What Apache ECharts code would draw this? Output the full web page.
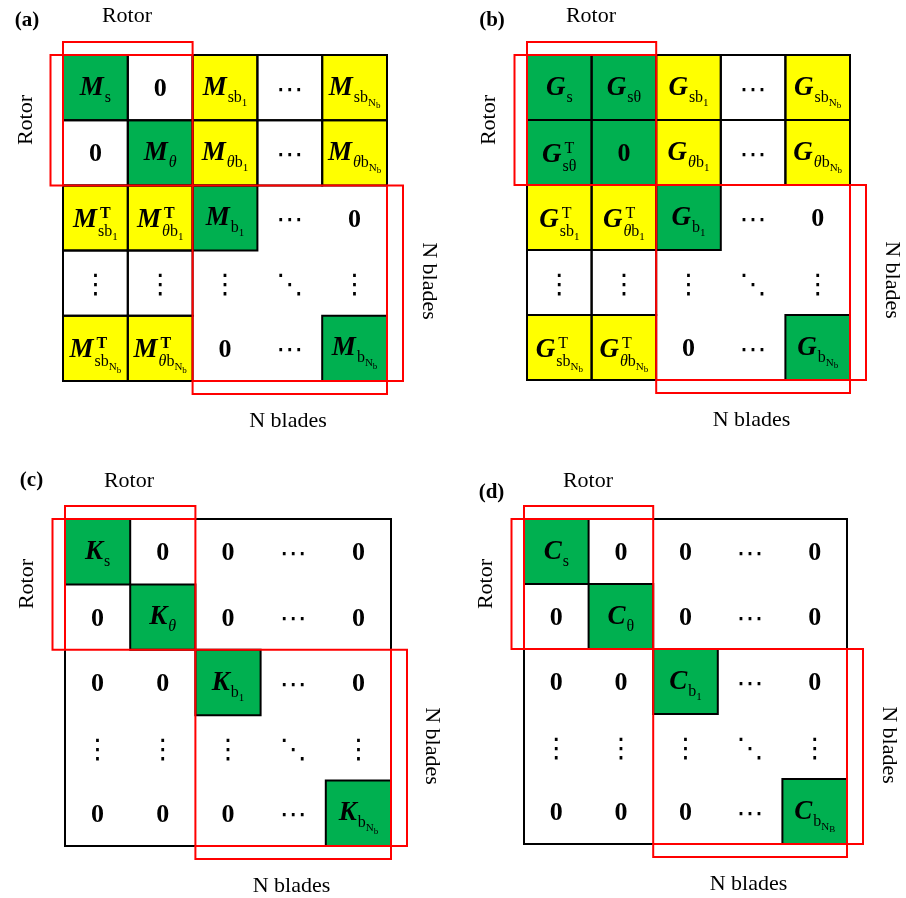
<!DOCTYPE html>
<html>
<head>
<meta charset="utf-8">
<script src="https://cdn.jsdelivr.net/npm/echarts@6/dist/echarts.min.js"></script>
<style>
  html, body { margin: 0; padding: 0; background: #fff; }
  #chart { width: 906px; height: 898px; }
</style>
</head>
<body>
<div id="chart"></div>
<script>
// ---- Matrix contents -------------------------------------------------------
// Cell fill codes: g = green, y = yellow, w = white with border, . = white without border
const fillMass  = ['gwywy', 'wgywy', 'yyg..', 'ww...', 'yy..g'];
const fillGyro  = ['ggywy', 'ggywy', 'yyg..', 'ww...', 'yy..g'];
const fillStiff = ['g....', '.g...', '..g..', '.....', '....g'];
const fillDamp  = ['g....', '.g...', '..g..', '.....', '....g'];

// Entry notation: Base[^sup]_level1_level2_level3 ; '~' makes the next symbol italic
const entriesMass = [
  ['M_s', '0', 'M_sb_1', '⋯', 'M_sb_N_b'],
  ['0', 'M_~θ', 'M_~θb_1', '⋯', 'M_~θb_N_b'],
  ['M^T_sb_1', 'M^T_~θb_1', 'M_b_1', '⋯', '0'],
  ['⋮', '⋮', '⋮', '⋱', '⋮'],
  ['M^T_sb_N_b', 'M^T_~θb_N_b', '0', '⋯', 'M_b_N_b']
];
const entriesGyro = [
  ['G_s', 'G_sθ', 'G_sb_1', '⋯', 'G_sb_N_b'],
  ['G^T_sθ', '0', 'G_~θb_1', '⋯', 'G_~θb_N_b'],
  ['G^T_sb_1', 'G^T_~θb_1', 'G_b_1', '⋯', '0'],
  ['⋮', '⋮', '⋮', '⋱', '⋮'],
  ['G^T_sb_N_b', 'G^T_~θb_N_b', '0', '⋯', 'G_b_N_b']
];
const entriesStiff = [
  ['K_s', '0', '0', '⋯', '0'],
  ['0', 'K_~θ', '0', '⋯', '0'],
  ['0', '0', 'K_b_1', '⋯', '0'],
  ['⋮', '⋮', '⋮', '⋱', '⋮'],
  ['0', '0', '0', '⋯', 'K_b_N_b']
];
const entriesDamp = [
  ['C_s', '0', '0', '⋯', '0'],
  ['0', 'C_θ', '0', '⋯', '0'],
  ['0', '0', 'C_b_1', '⋯', '0'],
  ['⋮', '⋮', '⋮', '⋱', '⋮'],
  ['0', '0', '0', '⋯', 'C_b_N_B']
];

// Sub-blocks in cell units [col0, row0, col1, row1]
const rotorBlock  = [0, 0, 2, 2];
const bladesBlock = [2, 2, 5, 5];
const matrixSize = 5;

const panelTags = ['(a)', '(b)', '(c)', '(d)'];
const rotorText = 'Rotor';
const bladesText = 'N blades';

// ---- Layout and styling ----------------------------------------------------
const layouts = [
  { grid: { left: 63, top: 55, width: 324, height: 326 }, tag: [27, 21], rotorTop: [127, 16], rotorSide: [26, 120], bladesSide: [429, 281], bladesBottom: [288, 421] },
  { grid: { left: 527, top: 55, width: 323, height: 325 }, tag: [492, 21], rotorTop: [591, 16], rotorSide: [489.5, 120], bladesSide: [891.5, 280], bladesBottom: [751.5, 420] },
  { grid: { left: 65, top: 519, width: 326, height: 327 }, tag: [31.5, 481], rotorTop: [129, 481], rotorSide: [27, 584], bladesSide: [432, 746], bladesBottom: [291.5, 886] },
  { grid: { left: 524, top: 519, width: 323, height: 325 }, tag: [491.5, 493], rotorTop: [588, 481], rotorSide: [486, 584], bladesSide: [888.5, 745], bladesBottom: [748.5, 884] }
];
const panels = [
  { fills: fillMass,  entries: entriesMass,  supBold: true },
  { fills: fillGyro,  entries: entriesGyro,  supBold: false },
  { fills: fillStiff, entries: entriesStiff, supBold: false },
  { fills: fillDamp,  entries: entriesDamp,  supBold: false }
];

const SERIF = '"Liberation Serif", "Times New Roman", serif';
const DOTS_FONT = '"DejaVu Sans", sans-serif';
const GREEN = '#00B050', YELLOW = '#FFFF00', RED = '#FF0000';
const FILL = { g: GREEN, y: YELLOW, w: '#FFFFFF', '.': null };
const DOT_GLYPHS = ['⋯', '⋮', '⋱'];
const BRACKET = { top: 13, left: 12.5, right: 16, bottom: 13 };

// ---- Text measuring helpers --------------------------------------------------
const mctx = document.createElement('canvas').getContext('2d');
function metrics(text, font) {
  mctx.font = font;
  mctx.textBaseline = 'middle';
  return mctx.measureText(text);
}
// distance from the 'middle' line to the alphabetic baseline
function baselineDrop(font) { return metrics('H', font).actualBoundingBoxDescent; }

function textEl(text, font, x, y) {
  return { type: 'text', silent: true, z2: 5,
    style: { text: text, font: font, fill: '#000', x: x, y: y, align: 'left', verticalAlign: 'middle' } };
}
// glyph whose ink box is centred on (cx, cy)
function centeredGlyph(text, font, cx, cy) {
  const m = metrics(text, font);
  const w = m.actualBoundingBoxLeft + m.actualBoundingBoxRight;
  const x = cx - w / 2 + m.actualBoundingBoxLeft;
  const y = cy - (m.actualBoundingBoxDescent - m.actualBoundingBoxAscent) / 2;
  return textEl(text, font, x, y);
}

function buildLabel(str, cx, cy, supBold) {
  if (str === '0') return [centeredGlyph('0', 'bold 26px ' + SERIF, cx, cy)];
  if (DOT_GLYPHS.indexOf(str) >= 0) return [centeredGlyph(str, '27px ' + DOTS_FONT, cx, cy + 1.5)];

  const parts = str.split('_');
  const head = parts[0].split('^');
  const base = head[0], sup = head[1];
  const subs = parts.slice(1);
  const baseFont = 'italic bold 27px ' + SERIF;
  const sizes = [16, 11, 9];
  const drops = [sup ? 9 : 7, 4, 2.5];

  const runs = [{ t: base, f: baseFont, x: 0, dy: 0 }];
  let x = metrics(base, baseFont).width + 1;
  const subX = x;
  let dy = 0;
  subs.forEach(function (s, i) {
    dy += drops[i];
    let italicNext = false;
    for (const ch of s) {
      if (ch === '~') { italicNext = true; continue; }
      const f = (italicNext ? 'italic ' : '') + sizes[i] + 'px ' + SERIF;
      runs.push({ t: ch, f: f, x: x, dy: dy });
      x += metrics(ch, f).width;
      italicNext = false;
    }
  });
  let total = x;
  if (sup) {
    const f = (supBold ? 'bold ' : '') + '16px ' + SERIF;
    const sx = subX + 2;
    runs.push({ t: sup, f: f, x: sx, dy: -9 });
    total = Math.max(total, sx + metrics(sup, f).width);
  }
  const x0 = cx - total / 2;
  const baseline = cy + (sup ? 9 : 7);
  return runs.map(function (r) {
    return textEl(r.t, r.f, x0 + r.x, baseline + r.dy - baselineDrop(r.f));
  });
}

// ---- Series builders -------------------------------------------------------
function cellData() {
  const d = [];
  for (let r = 0; r < matrixSize; r++) for (let c = 0; c < matrixSize; c++) d.push([c, r]);
  return d;
}

function cellSeries(idx, fills) {
  return {
    type: 'custom', xAxisIndex: idx, yAxisIndex: idx, z: 1, silent: true,
    data: cellData(),
    renderItem: function (params, api) {
      const col = api.value(0), row = api.value(1);
      const p0 = api.coord([col, row]), p1 = api.coord([col + 1, row + 1]);
      const code = fills[row][col];
      const shape = { x: p0[0], y: p0[1], width: p1[0] - p0[0], height: p1[1] - p0[1] };
      const children = [];
      if (FILL[code]) children.push({ type: 'rect', z2: 0, shape: shape, style: { fill: FILL[code] } });
      if (code !== '.') children.push({ type: 'rect', z2: 1, shape: shape, style: { fill: null, stroke: '#000', lineWidth: 2 } });
      return { type: 'group', children: children };
    }
  };
}

function frameSeries(idx) {
  return {
    type: 'custom', xAxisIndex: idx, yAxisIndex: idx, z: 2, silent: true,
    data: [[0, 0, matrixSize, matrixSize]],
    renderItem: function (params, api) {
      const p0 = api.coord([api.value(0), api.value(1)]);
      const p1 = api.coord([api.value(2), api.value(3)]);
      return { type: 'rect', shape: { x: p0[0], y: p0[1], width: p1[0] - p0[0], height: p1[1] - p0[1] },
        style: { fill: null, stroke: '#000', lineWidth: 2 } };
    }
  };
}

function blockSeries(idx) {
  return {
    type: 'custom', xAxisIndex: idx, yAxisIndex: idx, z: 3, silent: true,
    data: [rotorBlock.concat([0]), bladesBlock.concat([1])],
    renderItem: function (params, api) {
      const p0 = api.coord([api.value(0), api.value(1)]);
      const p1 = api.coord([api.value(2), api.value(3)]);
      const line = { stroke: RED, lineWidth: 2, fill: null };
      const children = [{ type: 'rect', shape: { x: p0[0], y: p0[1], width: p1[0] - p0[0], height: p1[1] - p0[1] }, style: line }];
      if (api.value(4) === 0) {
        const t = p0[1] - BRACKET.top, l = p0[0] - BRACKET.left;
        children.push({ type: 'polyline', shape: { points: [[p0[0], p0[1]], [p0[0], t], [p1[0], t], [p1[0], p0[1]]] }, style: line });
        children.push({ type: 'polyline', shape: { points: [[p0[0], p0[1]], [l, p0[1]], [l, p1[1]], [p0[0], p1[1]]] }, style: line });
      } else {
        const rgt = p1[0] + BRACKET.right, b = p1[1] + BRACKET.bottom;
        children.push({ type: 'polyline', shape: { points: [[p1[0], p0[1]], [rgt, p0[1]], [rgt, p1[1]], [p1[0], p1[1]]] }, style: line });
        children.push({ type: 'polyline', shape: { points: [[p0[0], p1[1]], [p0[0], b], [p1[0], b], [p1[0], p1[1]]] }, style: line });
      }
      return { type: 'group', children: children };
    }
  };
}

function labelSeries(idx, entries, supBold) {
  return {
    type: 'custom', xAxisIndex: idx, yAxisIndex: idx, z: 4, silent: true,
    data: cellData(),
    renderItem: function (params, api) {
      const col = api.value(0), row = api.value(1);
      const c = api.coord([col + 0.5, row + 0.5]);
      return { type: 'group', children: buildLabel(entries[row][col], c[0], c[1], supBold) };
    }
  };
}

// ---- Assemble ----------------------------------------------------------------
const grids = [], xAxes = [], yAxes = [], series = [], graphics = [];
const annFont = '22px ' + SERIF;
panels.forEach(function (p, i) {
  const L = layouts[i];
  grids.push(Object.assign({ containLabel: false }, L.grid));
  xAxes.push({ type: 'value', gridIndex: i, min: 0, max: matrixSize, show: false });
  yAxes.push({ type: 'value', gridIndex: i, min: 0, max: matrixSize, inverse: true, show: false });
  series.push(cellSeries(i, p.fills), frameSeries(i), blockSeries(i), labelSeries(i, p.entries, p.supBold));

  const txt = function (text, pos, font, rot) {
    graphics.push({ type: 'text', x: pos[0], y: pos[1], rotation: rot || 0, silent: true,
      style: { text: text, font: font, fill: '#000', align: 'center', verticalAlign: 'middle' } });
  };
  txt(panelTags[i], L.tag, 'bold 21px ' + SERIF);
  txt(rotorText, L.rotorTop, annFont);
  txt(rotorText, L.rotorSide, annFont, Math.PI / 2);
  txt(bladesText, L.bladesSide, annFont, -Math.PI / 2);
  txt(bladesText, L.bladesBottom, annFont);
});

const chart = echarts.init(document.getElementById('chart'), null, { renderer: 'canvas' });
chart.setOption({
  animation: false,
  backgroundColor: '#fff',
  grid: grids,
  xAxis: xAxes,
  yAxis: yAxes,
  series: series,
  graphic: graphics
});
</script>
</body>
</html>
